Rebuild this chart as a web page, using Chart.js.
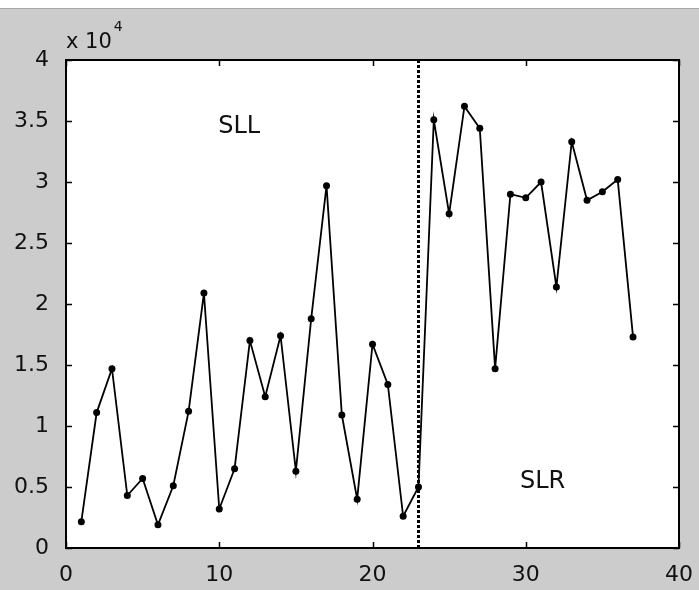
<!DOCTYPE html>
<html>
<head>
<meta charset="utf-8">
<script src="https://cdn.jsdelivr.net/npm/chart.js@4.4.1/dist/chart.umd.min.js"></script>
<style>
  html, body { margin: 0; padding: 0; background: #cccccc; }
  #wrap { width: 699px; height: 590px; position: relative; }
</style>
</head>
<body>
<div id="wrap"><canvas id="sideLobes" width="699" height="590"></canvas></div>
<script>
// sample index and side lobe level per sample
const sampleIdx = [1, 2, 3, 4, 5, 6, 7, 8, 9, 10, 11, 12, 13, 14, 15, 16, 17, 18, 19,
  20, 21, 22, 23, 24, 25, 26, 27, 28, 29, 30, 31, 32, 33, 34, 35, 36, 37];
const levels = [2160, 11100, 14700, 4300, 5700, 1900, 5100, 11200, 20900, 3200, 6500,
  17000, 12400, 17400, 6300, 18800, 29700, 10900, 4000, 16700, 13400, 2600, 5000,
  35100, 27400, 36200, 34400, 14700, 29000, 28700, 30000, 21400, 33300, 28500, 29200,
  30200, 17300];

const xTicks = [0, 10, 20, 30, 40];
const yTicks = [0, 5000, 10000, 15000, 20000, 25000, 30000, 35000, 40000];
const splitAt = 23;
const regionLabels = ["SLL", "SLR"];

const FONT = "'DejaVu Sans', Verdana, sans-serif";

// window-style gray frame with the white strip along the top
const frameBg = {
  id: "frameBg",
  beforeDraw(chart) {
    const ctx = chart.ctx;
    ctx.save();
    ctx.fillStyle = "#ffffff";
    ctx.fillRect(0, 0, chart.width, 9);
    ctx.fillStyle = "#a8a8a8";
    ctx.fillRect(0, 8, chart.width, 1);
    ctx.fillStyle = "#cccccc";
    ctx.fillRect(0, 10, chart.width, chart.height - 10);
    const a = chart.chartArea;
    ctx.fillStyle = "#ffffff";
    ctx.fillRect(a.left, a.top, a.right - a.left, a.bottom - a.top);
    ctx.restore();
  }
};

// box, inward ticks, split line, region names and the exponent note
const axesBox = {
  id: "axesBox",
  afterDatasetsDraw(chart) {
    const ctx = chart.ctx;
    const a = chart.chartArea;
    const sx = chart.scales.x, sy = chart.scales.y;
    ctx.save();

    // dotted separator
    const xs = Math.round(sx.getPixelForValue(splitAt)) + 0.5;
    ctx.strokeStyle = "#000";
    ctx.lineWidth = 3;
    ctx.setLineDash([3, 2]);
    ctx.beginPath();
    ctx.moveTo(xs, a.top);
    ctx.lineTo(xs, a.bottom);
    ctx.stroke();
    ctx.setLineDash([]);

    // ticks on all four sides, pointing in
    ctx.lineWidth = 1.5;
    const len = 6;
    ctx.beginPath();
    xTicks.forEach(v => {
      const px = Math.round(sx.getPixelForValue(v)) + 0.5;
      ctx.moveTo(px, a.bottom); ctx.lineTo(px, a.bottom - len);
      ctx.moveTo(px, a.top); ctx.lineTo(px, a.top + len);
    });
    yTicks.forEach(v => {
      const py = Math.round(sy.getPixelForValue(v)) + 0.5;
      ctx.moveTo(a.left, py); ctx.lineTo(a.left + len, py);
      ctx.moveTo(a.right, py); ctx.lineTo(a.right - len, py);
    });
    ctx.stroke();

    ctx.lineWidth = 2;
    ctx.strokeRect(a.left, a.top, a.right - a.left, a.bottom - a.top);

    // region names
    ctx.fillStyle = "#111";
    ctx.font = "24px " + FONT;
    ctx.textAlign = "center";
    ctx.textBaseline = "middle";
    ctx.fillText(regionLabels[0], sx.getPixelForValue(11.3), sy.getPixelForValue(34500));
    ctx.fillText(regionLabels[1], sx.getPixelForValue(31.1), sy.getPixelForValue(5400));

    // x 10^4 above the y axis
    ctx.textAlign = "left";
    ctx.textBaseline = "alphabetic";
    ctx.font = "21px " + FONT;
    ctx.fillText("x 10", a.left, 48);
    const w = ctx.measureText("x 10").width;
    ctx.font = "14px " + FONT;
    ctx.fillText("4", a.left + w + 2, 31);

    ctx.restore();
  }
};

new Chart(document.getElementById("sideLobes"), {
  type: "line",
  data: {
    datasets: [{
      data: sampleIdx.map((x, i) => ({ x: x, y: levels[i] })),
      borderColor: "#000",
      borderWidth: 1.8,
      pointRadius: 3.5,
      pointBackgroundColor: "#000",
      pointBorderColor: "#000",
      pointBorderWidth: 0,
      tension: 0
    }]
  },
  options: {
    responsive: false,
    animation: false,
    events: [],
    layout: { padding: { left: 0, top: 60, right: 18, bottom: 0 } },
    plugins: { legend: { display: false }, tooltip: { enabled: false } },
    scales: {
      x: {
        type: "linear",
        min: 0,
        max: 40,
        grid: { display: false },
        border: { display: false },
        afterFit(s) { s.height = 42; },
        afterBuildTicks(s) { s.ticks = xTicks.map(v => ({ value: v })); },
        ticks: {
          color: "#111",
          padding: 6,
          maxRotation: 0,
          font: { family: FONT, size: 22 }
        }
      },
      y: {
        type: "linear",
        min: 0,
        max: 40000,
        grid: { display: false },
        border: { display: false },
        afterFit(s) { s.width = 66; },
        afterBuildTicks(s) { s.ticks = yTicks.map(v => ({ value: v })); },
        ticks: {
          color: "#111",
          padding: 9,
          font: { family: FONT, size: 22 },
          callback: v => String(v / 10000)
        }
      }
    }
  },
  plugins: [frameBg, axesBox]
});
</script>
</body>
</html>
